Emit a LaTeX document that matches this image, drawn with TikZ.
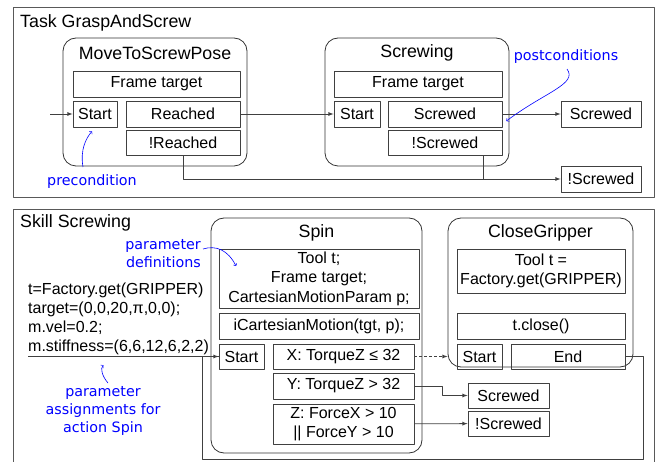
\documentclass[tikz,border=0pt]{standalone}
\usepackage{fontspec}
\setmainfont{Liberation Sans}
\newfontfamily\handfont{DejaVu Sans}
\usetikzlibrary{calc}
\newcommand{\fsz}[1]{\fontsize{#1}{1.22\dimexpr#1pt\relax}\selectfont}
\tikzset{
  panel/.style={draw=black!65,line width=0.8pt},
  statebox/.style={draw=black!80,line width=0.8pt,rounded corners=13pt,inner sep=0pt},
  cell/.style={draw=black!75,line width=0.8pt,inner sep=0pt,minimum height=26pt,align=center,font=\fsz{16}},
  heading/.style={inner sep=0pt,font=\fsz{17.8}},
  note/.style={text=blue,inner sep=0pt,align=center,font=\handfont\fontsize{14.3}{18}\selectfont},
  notearrow/.style={draw=blue,line width=0.6pt,-to},
  wire/.style={draw=black!75,line width=0.8pt},
}
\begin{document}
\begin{tikzpicture}[>=latex,line join=bevel,x=1pt,y=-1pt]
\useasboundingbox (0,0) rectangle (661,462);
%% task
\draw [panel] (13,7) rectangle (654,197);
\node (task_title) at (20,23) [heading,anchor=west] {Task GraspAndScrew};
%
\node (mtsp) at (155,102) [statebox,minimum width=184pt,minimum height=128pt] {};
\node (mtsp_title) at (155,53) [heading] {MoveToScrewPose};
\node (mtsp_frame) at (156.5,84) [cell,minimum width=167pt] {Frame target};
\node (mtsp_start) at (95,114) [cell,minimum width=44pt] {Start};
\node (mtsp_reached) at (183,114) [cell,minimum width=114pt] {Reached};
\node (mtsp_nreached) at (183,142.5) [cell,minimum width=114pt,minimum height=25pt] {!Reached};
%
\node (scr) at (417,102) [statebox,minimum width=184pt,minimum height=128pt] {};
\node (scr_title) at (417,53) [heading] {Screwing};
\node (scr_frame) at (418,84) [cell,minimum width=168pt] {Frame target};
\node (scr_start) at (357,114) [cell,minimum width=46pt] {Start};
\node (scr_screwed) at (445,114) [cell,minimum width=114pt] {Screwed};
\node (scr_nscrewed) at (445,142.5) [cell,minimum width=114pt,minimum height=25pt] {!Screwed};
%
\node (task_screwed) at (601,114) [cell,minimum width=80pt] {Screwed};
\node (task_nscrewed) at (601,179) [cell,minimum width=80pt] {!Screwed};
\coordinate (task_in) at (50,114);
%
\draw [wire,->] (task_in) -- (mtsp_start);
\draw [wire,->] (mtsp_reached) -- (scr_start);
\draw [wire,->] (scr_screwed) -- (task_screwed);
\draw [wire,->] (mtsp_nreached) |- (task_nscrewed);
\draw [wire] ([xshift=38pt]scr_nscrewed.south) -- ([xshift=38pt]scr_nscrewed.south |- task_nscrewed.west);
%
\node (pre_note) at (92,182) [note] {precondition};
\node (post_note) at (566,57) [note] {postconditions};
\draw [notearrow] (83,167) .. controls (80,150) and (86,138) .. ([xshift=-3pt,yshift=-4pt]mtsp_start.south);
\draw [notearrow] (567,69) .. controls (578,84) and (545,92) .. ([xshift=4pt,yshift=-7pt]scr_screwed.east);
%% skill
\draw [panel] (13,470) -- (13,209) -- (654,209) -- (654,470);
\node (skill_title) at (20,223) [heading,anchor=west] {Skill Screwing};
%
\node (spin) at (316.5,335.5) [statebox,minimum width=211pt,minimum height=235pt] {};
\node (spin_title) at (316.5,233) [heading] {Spin};
\node (spin_decl) at (319,278.5) [cell,minimum width=200pt,minimum height=59pt] {Tool t;\\Frame target;\\CartesianMotionParam p;};
\node (spin_motion) at (319,326) [cell,minimum width=200pt] {iCartesianMotion(tgt, p);};
\node (spin_start) at (241.5,356.5) [cell,minimum width=45pt,minimum height=25pt] {Start};
\node (spin_x) at (343.5,356.5) [cell,minimum width=141pt,minimum height=25pt] {X: TorqueZ ≤ 32};
\node (spin_y) at (343.5,386) [cell,minimum width=141pt] {Y: TorqueZ > 32};
\node (spin_z) at (343.5,424) [cell,minimum width=141pt,minimum height=40pt] {Z: ForceX > 10\\|| ForceY > 10};
%
\node (cg) at (540.5,292.5) [statebox,minimum width=185pt,minimum height=149pt] {};
\node (cg_title) at (540.5,233) [heading] {CloseGripper};
\node (cg_tool) at (541,271) [cell,minimum width=168pt,minimum height=44pt] {Tool t =\\Factory.get(GRIPPER)};
\node (cg_close) at (541,326) [cell,minimum width=168pt] {t.close()};
\node (cg_start) at (479.5,356.5) [cell,minimum width=45pt,minimum height=25pt] {Start};
\node (cg_end) at (568,356.5) [cell,minimum width=114pt,minimum height=25pt] {End};
%
\node (skill_screwed) at (508.5,395.5) [cell,minimum width=81pt,minimum height=25pt] {Screwed};
\node (skill_nscrewed) at (508.5,423.5) [cell,minimum width=81pt,minimum height=25pt] {!Screwed};
%
\node (assign) at (28,318.5) [anchor=west,inner sep=0pt,align=left,font=\fontsize{16}{19}\selectfont] {t=Factory.get(GRIPPER)\\target=(0,0,20,π,0,0);\\m.vel=0.2;\\m.stiffness=(6,6,12,6,2,2)};
\coordinate (assign_end) at (28,356.5);
\coordinate (loop_r) at (643,459);
\coordinate (loop_l) at (202,459);
%
\draw [wire,->] (assign_end) -- (spin_start);
\draw [wire] (cg_end.east) -| (loop_r) -- (loop_l) |- (spin_start.west);
\draw [wire,->,dash pattern=on 3pt off 2pt] (spin_x) -- (spin_x.east -| cg.west);
\draw [wire,->] (spin_y.east) -- ++(28,0) |- (skill_screwed);
\draw [wire,->] (spin_z) -- (skill_nscrewed);
%
\node (def_note) at (201,253.5) [note,anchor=east,align=right] {parameter\\definitions};
\node (assign_note) at (103,411) [note] {parameter\\assignments for\\action Spin};
\draw [notearrow] (203,249) .. controls (216,245) and (228,250) .. (236,266);
\draw [notearrow] (108,383) .. controls (102,376) and (100,368) .. ([xshift=-138pt,yshift=4pt]spin_start.south);
%
\end{tikzpicture}
\end{document}
